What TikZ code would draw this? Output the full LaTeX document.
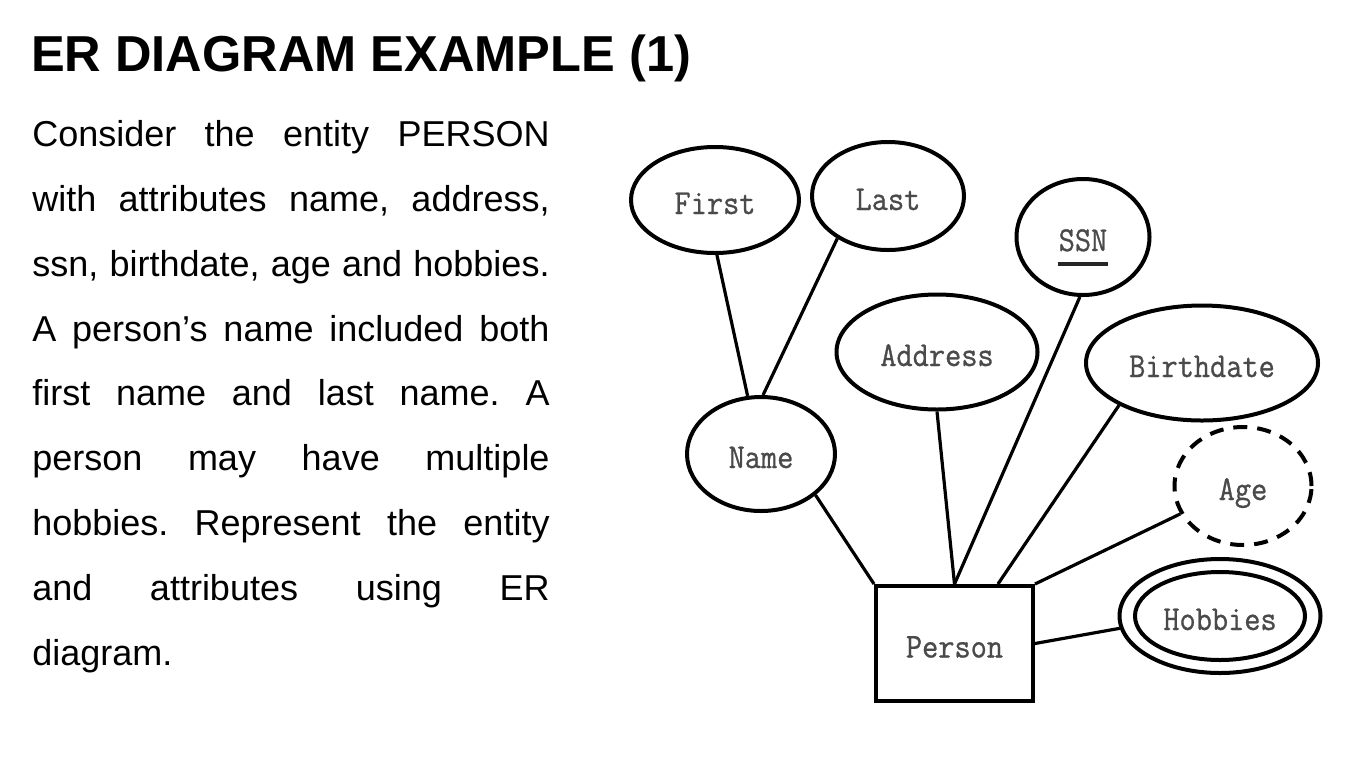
\documentclass[tikz,border=0pt]{standalone}
\usepackage{fontspec}
\setmainfont{Liberation Sans}
\newfontfamily\erfont[FakeStretch=0.9,FakeBold=0.8]{Latin Modern Mono}
\usetikzlibrary{shapes.geometric}
\definecolor{lab}{HTML}{4A4A4A}
\frenchspacing
\begin{document}
\begin{tikzpicture}[x=0.75pt,y=-0.75pt,
  labelfont/.style={text=lab, text height=21pt, text depth=0pt,
    font=\erfont\fontsize{26.2pt}{28pt}\selectfont},
  attr/.style={ellipse, draw=black, line width=3pt, inner sep=0pt, labelfont},
  entitybox/.style={rectangle, draw=black, line width=3pt, inner sep=0pt, labelfont},
  link/.style={draw=black, line width=2.4pt},
  body/.style={anchor=base west, inner sep=0pt, font=\fontsize{27pt}{30pt}\selectfont},
  titletext/.style={anchor=base west, inner sep=0pt, font=\bfseries\fontsize{37.9pt}{40pt}\selectfont}
]
\useasboundingbox[fill=white] (0,0) rectangle (1357,772);

% title and text
\node[titletext] (title) at (31,71) {ER DIAGRAM EXAMPLE (1)};
\node[body] (t1) at (32,146) {\makebox[388pt][s]{Consider the entity PERSON}};
\node[body] (t2) at (32,211) {\makebox[388pt][s]{with attributes name, address,}};
\node[body] (t3) at (32,276) {\makebox[388pt][s]{ssn, birthdate, age and hobbies.}};
\node[body] (t4) at (32,341) {\makebox[388pt][s]{A person’s name included both}};
\node[body] (t5) at (32,405) {\makebox[388pt][s]{first name and last name. A}};
\node[body] (t6) at (32,470) {\makebox[388pt][s]{person may have multiple}};
\node[body] (t7) at (32,535) {\makebox[388pt][s]{hobbies. Represent the entity}};
\node[body] (t8) at (32,600) {\makebox[388pt][s]{and attributes using ER}};
\node[body] (t9) at (32,665) {diagram.};

% ER diagram
\node[attr, minimum width=126pt, minimum height=79.5pt] (first) at (715,200) {First};
\node[attr, minimum width=114pt, minimum height=81pt] (last) at (888,196) {Last};
\node[attr, minimum width=99.75pt, minimum height=87pt] (ssn) at (1083,237) {SSN};
\node[attr, minimum width=150.75pt, minimum height=86.25pt] (address) at (937,352) {Address};
\node[attr, minimum width=174pt, minimum height=86.25pt] (birth) at (1202,363) {Birthdate};
\node[attr, minimum width=111pt, minimum height=85.5pt] (name) at (761,454) {Name};
\node[attr, dash pattern=on 10.5pt off 7.5pt, minimum width=102.75pt, minimum height=88.5pt] (age) at (1243,486) {Age};
\node[attr, minimum width=150.75pt, minimum height=85.5pt] (hobout) at (1220,616) {};
\node[attr, minimum width=127.5pt, minimum height=66pt] (hobbies) at (1220,616) {Hobbies};
\node[entitybox, minimum width=117.75pt, minimum height=86.25pt] (person) at (954.5,643.5) {Person};

% SSN key underline
\draw[line width=3pt, black!85] ([xshift=-18.75pt, yshift=-20pt]ssn.center) -- ([xshift=18.75pt, yshift=-20pt]ssn.center);

% connectors
\draw[link] (first.-88) -- (name.103);
\draw[link] (last.220) -- (name.88);
\draw[link] (name.-37) -- (person.north west);
\draw[link] (address.south) -- (person.north);
\draw[link] (ssn.-93) -- (person.north);
\draw[link] (birth.207) -- ([xshift=32.6pt]person.north);
\draw[link] (age.204) -- (person.north east);
\draw[link] (hobout.187) -- (person.east);
\end{tikzpicture}
\end{document}
